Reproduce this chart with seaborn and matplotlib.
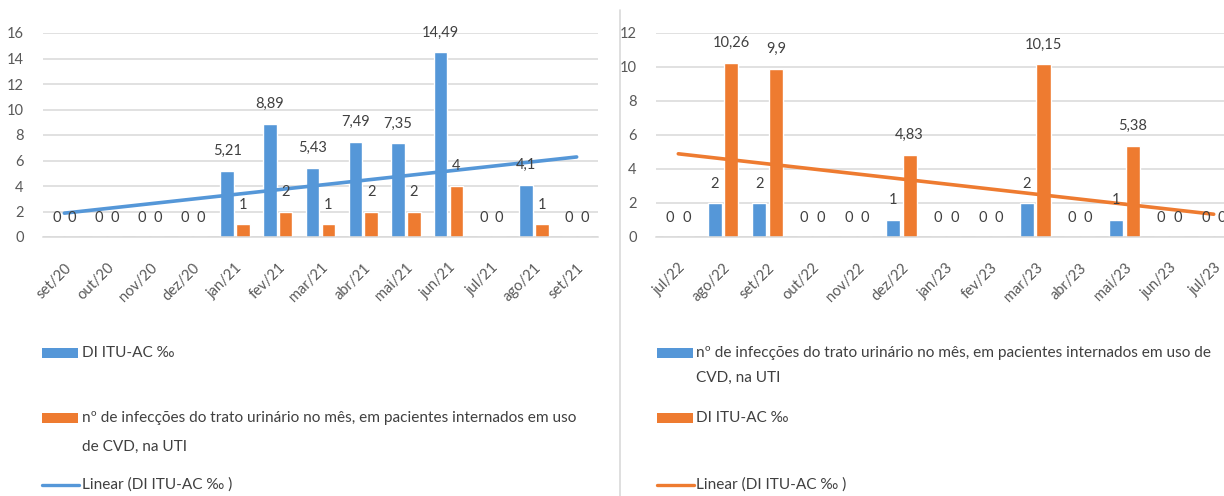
import numpy as np
import pandas as pd
import matplotlib
matplotlib.use("Agg")
import matplotlib.pyplot as plt
from matplotlib.patches import Rectangle
from matplotlib.lines import Line2D
import seaborn as sns

# ---- data -------------------------------------------------------------
months_a = ["set/20", "out/20", "nov/20", "dez/20", "jan/21", "fev/21", "mar/21",
            "abr/21", "mai/21", "jun/21", "jul/21", "ago/21", "set/21"]
di_a = [0, 0, 0, 0, 5.21, 8.89, 5.43, 7.49, 7.35, 14.49, 0, 4.1, 0]
inf_a = [0, 0, 0, 0, 1, 2, 1, 2, 2, 4, 0, 1, 0]

months_b = ["jul/22", "ago/22", "set/22", "out/22", "nov/22", "dez/22", "jan/23",
            "fev/23", "mar/23", "abr/23", "mai/23", "jun/23", "jul/23"]
inf_b = [0, 2, 2, 0, 0, 1, 0, 0, 2, 0, 1, 0, 0]
di_b = [0, 10.26, 9.9, 0, 0, 4.83, 0, 0, 10.15, 0, 5.38, 0, 0]

lbl_di = "DI ITU-AC ‰"
lbl_inf = "nº de infecções do trato urinário no mês, em pacientes internados em uso de CVD, na UTI"
lbl_lin = "Linear (DI ITU-AC ‰ )"

BLUE = "#5597D8"
ORANGE = "#EE7B30"
GRID = "#D9D9D9"
TICK = "#595959"
TXT = "#404040"

sns.set_theme(style="white")
plt.rcParams["font.family"] = ["Lato", "DejaVu Sans"]

W, H = 1224, 496
fig = plt.figure(figsize=(W / 100, H / 100), dpi=100)


def fx(px):
    return px / W


def fy(py):
    return 1 - py / H


def fmt(v):
    if float(v).is_integer():
        return str(int(v))
    return ("%g" % v).replace(".", ",")


def panel(rect, months, s1, s2, n1, n2, colors, trend, ymax):
    ax = fig.add_axes(rect)
    df = pd.DataFrame({
        "mes": months * 2,
        "valor": list(s1) + list(s2),
        "serie": [n1] * len(months) + [n2] * len(months),
    })
    sns.barplot(data=df, x="mes", y="valor", hue="serie", hue_order=[n1, n2],
                palette=colors, width=0.74, gap=0.14, saturation=1,
                legend=False, ax=ax, errorbar=None, order=months)
    x = np.arange(len(months))
    tcol = colors[0] if trend == 0 else colors[1]
    tvals = s1 if trend == 0 else s2
    sns.regplot(x=x, y=np.array(tvals, dtype=float), scatter=False, ci=None,
                truncate=True, ax=ax, line_kws=dict(color=tcol, lw=2.6))
    # value labels above each bar
    for cont in ax.containers:
        for rect_ in cont:
            h = rect_.get_height()
            cx = rect_.get_x() + rect_.get_width() / 2
            ax.annotate(fmt(round(h, 2)), (cx, h), xytext=(0, 9),
                        textcoords="offset points", ha="center", va="bottom",
                        fontsize=10.5, color=TXT)
    ax.set_xlim(-0.5, len(months) - 0.5)
    ax.set_ylim(0, ymax)
    ax.set_yticks(np.arange(0, ymax + 1, 2))
    ax.set_xlabel("")
    ax.set_ylabel("")
    ax.grid(axis="y", color=GRID, lw=1.1)
    ax.set_axisbelow(True)
    for s in ["top", "right", "left"]:
        ax.spines[s].set_visible(False)
    ax.spines["bottom"].set_color(GRID)
    ax.spines["bottom"].set_linewidth(1.1)
    ax.set_xticks(x)
    ax.set_xticklabels(months, rotation=45, ha="right", va="top",
                       rotation_mode="anchor", fontsize=10.5, color=TICK)
    ax.tick_params(axis="x", length=0, pad=17)
    ax.set_xticks(np.arange(-0.5, len(months) + 0.5, 1), minor=True)
    ax.tick_params(axis="x", which="minor", length=6, color=GRID, width=1.1)
    ax.tick_params(axis="y", length=0, pad=14, labelsize=10.5, labelcolor=TICK)
    ax.patch.set_alpha(0)
    return ax


# left chart: 13 categories between x=43 and x=598
panel([fx(43), fy(237), fx(598) - fx(43), fy(33) - fy(237)],
      months_a, di_a, inf_a, lbl_di, lbl_inf, [BLUE, ORANGE], 0, 16)

# right chart: 13 categories starting at x=656 (runs past the right edge)
panel([fx(656), fy(237), fx(1236) - fx(656), fy(33) - fy(237)],
      months_b, inf_b, di_b, lbl_inf, lbl_di, [BLUE, ORANGE], 1, 12)

# separator between the two charts
fig.add_artist(Line2D([fx(620), fx(620)], [fy(10), 0], color=GRID, lw=1.2))


# ---- legends ----------------------------------------------------------
def leg_patch(x0, yc, color):
    fig.add_artist(Rectangle((fx(x0), fy(yc + 5)), fx(36), 10 / H,
                             facecolor=color, edgecolor="none"))


def leg_line(x0, yc, color):
    fig.add_artist(Line2D([fx(x0), fx(x0 + 37)], [fy(yc), fy(yc)],
                          color=color, lw=2.4))


def leg_text(x0, yc, s):
    fig.text(fx(x0), fy(yc), s, ha="left", va="center", fontsize=11.1, color=TXT)


inf_l1 = "nº de infecções do trato urinário no mês, em pacientes internados em uso"
inf_r1 = "nº de infecções do trato urinário no mês, em pacientes internados em uso de"

leg_patch(42, 353, BLUE)
leg_text(82, 353, lbl_di)
leg_patch(42, 418, ORANGE)
leg_text(82, 418, inf_l1)
leg_text(82, 447, "de CVD, na UTI")
leg_line(42, 485, BLUE)
leg_text(82, 485, lbl_lin)

leg_patch(657, 353, BLUE)
leg_text(696, 353, inf_r1)
leg_text(696, 378, "CVD, na UTI")
leg_patch(657, 418, ORANGE)
leg_text(696, 418, lbl_di)
leg_line(657, 485, ORANGE)
leg_text(696, 485, lbl_lin)

fig.savefig("out.png", dpi=100)
